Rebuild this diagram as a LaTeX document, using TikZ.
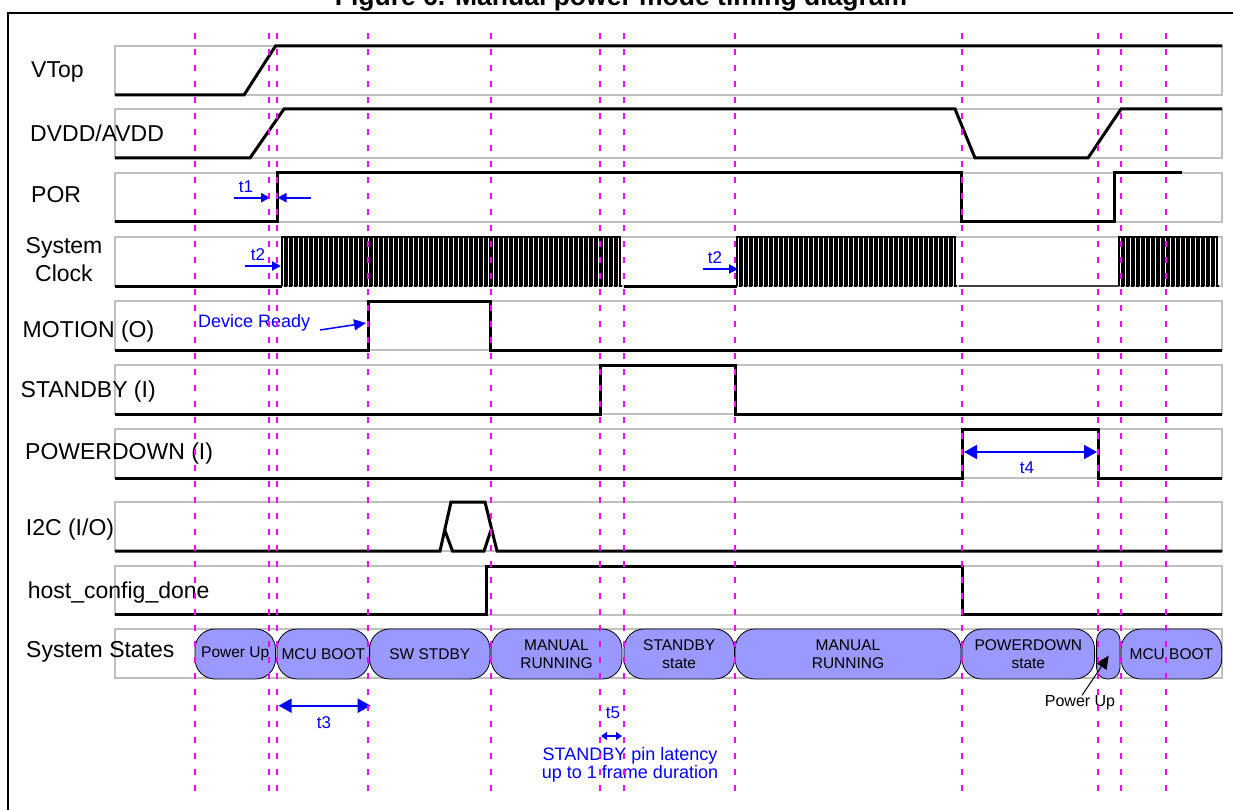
\documentclass[tikz,border=0pt]{standalone}
\usepackage{fontspec}
\setmainfont{Liberation Sans}
\usetikzlibrary{arrows.meta,positioning}
\definecolor{guidemag}{RGB}{255,0,255}
\definecolor{boxgray}{RGB}{192,192,192}
\definecolor{statefill}{RGB}{153,153,255}
\definecolor{annblue}{RGB}{0,0,255}

\begin{document}
\begin{tikzpicture}[
  x=1pt, y=-1pt,
  >=Stealth,
  sig/.style={line width=3pt, line join=miter},
  clk/.style={line width=2pt},
  rowbox/.style={draw=boxgray, line width=2pt},
  guide/.style={guidemag, line width=2pt, dash pattern=on 6pt off 10pt},
  lbl/.style={anchor=base west, inner sep=0pt, font=\fontsize{23}{26}\selectfont},
  stbox/.style={draw, line width=0.8pt, fill=statefill, rounded corners=20pt, minimum height=50pt, inner sep=0pt, align=center, font=\fontsize{15.5}{18}\selectfont},
  ann/.style={annblue, inner sep=0pt, align=center, font=\fontsize{17}{18}\selectfont},
  annarr/.style={annblue, line width=2pt, -{Triangle[length=9pt,width=9pt]}},
  dimarr/.style={annblue, line width=2pt, {Triangle[length=13pt,width=14pt]}-{Triangle[length=13pt,width=14pt]}}
]
\useasboundingbox (0,0) rectangle (1233,810);

% Frame and title
\draw[line width=2pt] (8,830) -- (8,13) -- (1250,13);
\node[anchor=base, inner sep=0pt, font=\bfseries\fontsize{26.5}{28}\selectfont] (title) at (621,5.5) {Figure 6. Manual power mode timing diagram};

% Row boxes
\foreach \t in {46,109,173,237,301,365,429,502,566,629}
  \draw[rowbox] (115,\t) rectangle (1222,{\t+49});

% Signals
\draw[sig] (115,95) -- (244,95) -- (275.5,46) -- (1222,46);
\draw[sig] (115,158) -- (250,158) -- (284,109) -- (955,109) -- (975,158) -- (1088,158) -- (1121,109) -- (1222,109);
\draw[sig] (115,222) -- (277,222) -- (277,173) -- (961,173) -- (961,222) -- (1114,222) -- (1114,173) -- (1182,173);
\draw[sig] (115,286) -- (282,286);
\draw[sig] (624,286) -- (737,286);
\draw[sig, black!75, line width=2.5pt] (959,286) -- (1119,286);
\draw[sig] (115,350) -- (368,350) -- (368,301) -- (490.5,301) -- (490.5,350) -- (1222,350);
\draw[sig] (115,414) -- (600,414) -- (600,365) -- (735,365) -- (735,414) -- (1222,414);
\draw[sig] (115,478) -- (962,478) -- (962,429) -- (1098,429) -- (1098,478) -- (1222,478);
\draw[sig] (115,551) -- (440,551) -- (451,502) -- (485,502) -- (497,551) -- (1222,551);
\draw[sig] (444.7,530) -- (452.5,551) -- (484,551) -- (491,530);
\draw[sig] (115,614) -- (486,614) -- (486,566) -- (962,566) -- (962,614) -- (1222,614);

% Clock bursts
\foreach \a/\n in {282/68, 737/44, 1119/20} {
  \foreach \i in {1,...,\n} {
    \draw[clk] ({\a+5*(\i-1)},286) |- ({\a+5*\i-2.5},237) |- ({\a+5*\i},286);
  }
}

% Signal labels
\node[lbl] (lvtop) at (31,78) {VTop};
\node[lbl] (ldvdd) at (30,142) {DVDD/AVDD};
\node[lbl] (lpor) at (31,203) {POR};
\node[inner sep=0pt, align=center, font=\fontsize{23}{28}\selectfont] (lclk) at (64,260) {System\\Clock};
\node[lbl] (lmot) at (22.5,337) {MOTION (O)};
\node[lbl] (lstb) at (20.5,397) {STANDBY (I)};
\node[lbl] (lpwd) at (25,459) {POWERDOWN (I)};
\node[lbl] (li2c) at (25.7,535) {I2C (I/O)};
\node[lbl] (lhost) at (27.7,598) {host\_config\_done};
\node[lbl] (lsys) at (26,657) {System States};

% States
\node[stbox, minimum width=80.5pt] (pwrup) at (235.25,654) {Power Up};
\node[stbox, minimum width=92.6pt] (mcub) at (323.3,654) {MCU BOOT};
\node[stbox, minimum width=120.4pt] (swst) at (429.8,654) {SW STDBY};
\node[stbox, minimum width=131pt] (manA) at (556.5,654) {MANUAL\\RUNNING};
\node[stbox, minimum width=110.5pt] (stby) at (679.25,654) {STANDBY\\state};
\node[stbox, minimum width=226pt] (manB) at (848,654) {MANUAL\\RUNNING};
\node[stbox, minimum width=132.6pt] (pwdn) at (1028.3,654) {POWERDOWN\\state};
\node[stbox, rounded corners=11pt, minimum width=23.4pt] (pwrupB) at (1108.3,654) {};
\node[stbox, minimum width=100.7pt] (mcubB) at (1171.35,654) {MCU BOOT};

% Annotations
\node[ann] (t1) at (246,187) {t1};
\coordinate (t1a) at (234,197.7);
\coordinate (t1b) at (270,197.7);
\coordinate (t1c) at (311,197.7);
\coordinate (t1d) at (277.5,197.7);
\draw[annarr] (t1a) -- (t1b);
\draw[annarr] (t1c) -- (t1d);

\node[ann] (t2a) at (258,255) {t2};
\coordinate (t2aS) at (245,266);
\coordinate (t2aE) at (281,266);
\draw[annarr] (t2aS) -- (t2aE);
\node[ann] (t2b) at (715,258) {t2};
\coordinate (t2bS) at (703,269);
\coordinate (t2bE) at (738,269);
\draw[annarr] (t2bS) -- (t2bE);

\node[ann, anchor=west, font=\fontsize{18}{20}\selectfont] (devrdy) at (198,323) {Device Ready};
\coordinate (devS) at (320,330);
\coordinate (devE) at (366,323);
\draw[annarr, line width=1.5pt, -{Triangle[length=12pt,width=11pt]}] (devS) -- (devE);

\coordinate (t4S) at (964,452);
\coordinate (t4E) at (1097,452);
\draw[dimarr] (t4S) -- (t4E);
\node[ann] (t4) at (1027,468) {t4};

\coordinate (t3S) at (278.6,705.7);
\coordinate (t3E) at (370.7,705.7);
\draw[dimarr] (t3S) -- (t3E);
\node[ann] (t3) at (324,723) {t3};

\node[ann] (t5) at (613,713) {t5};
\coordinate (t5S) at (601,736);
\coordinate (t5E) at (622,736);
\draw[annblue, line width=2pt, {Triangle[length=6pt,width=8pt]}-{Triangle[length=6pt,width=8pt]}] (t5S) -- (t5E);
\node[ann, font=\fontsize{18}{18}\selectfont] (latency) at (630,765) {STANDBY pin latency\\up to 1 frame duration};

\node[inner sep=0pt, font=\fontsize{16}{18}\selectfont] (pwnote) at (1080,702.7) {Power Up};
\coordinate (pwtip) at (1108.7,655.7);
\draw[line width=1pt, -{Triangle[length=13pt,width=12pt]}] ([xshift=2pt]pwnote.north) -- (pwtip);

% Guides
\foreach \x in {195,269,277,368,490.5,600,624,735,962,1098,1121,1166}
  \draw[guide] (\x,33) -- (\x,795);

\end{tikzpicture}
\end{document}
